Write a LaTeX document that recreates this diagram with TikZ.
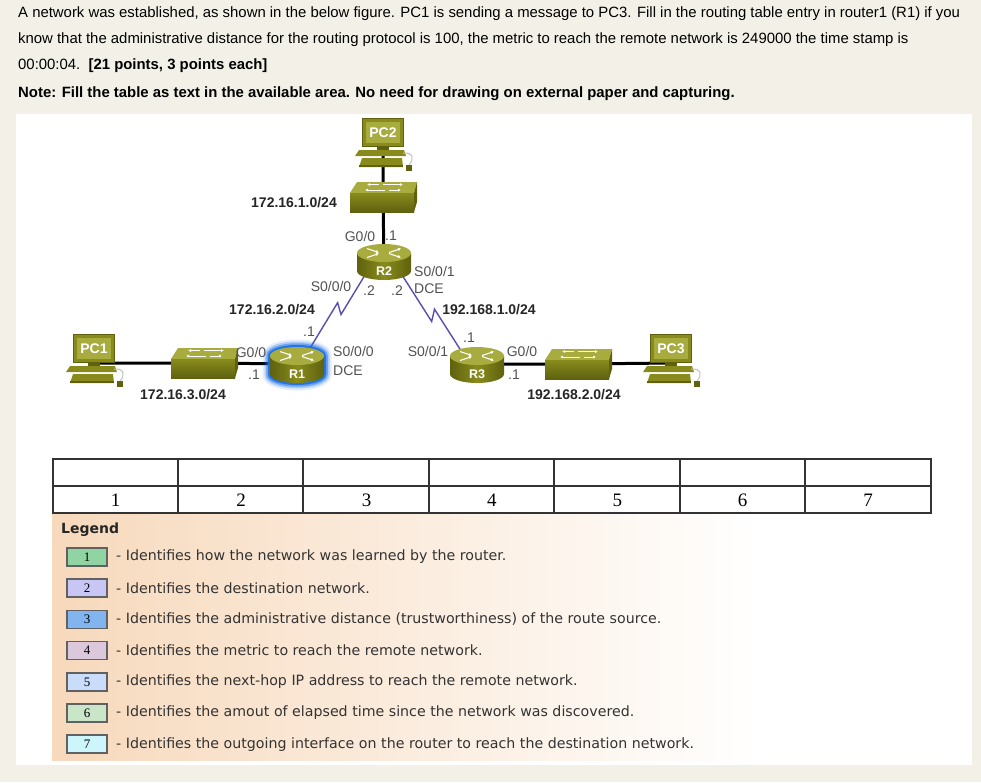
\documentclass[tikz,border=0pt]{standalone}
\usepackage{fontspec}
\setmainfont{Liberation Sans}
\newfontfamily\numfont{Liberation Serif}
\newfontfamily\keyfont{DejaVu Sans}
\usetikzlibrary{calc}
\usetikzlibrary{arrows.meta}
\pgfdeclarelayer{paper}
\pgfdeclarelayer{background}
\pgfsetlayers{paper,background,main}

\definecolor{pagebg}{HTML}{F3F1E7}
\definecolor{olivelight}{HTML}{A8AB3E}
\definecolor{olivemid}{HTML}{888B1C}
\definecolor{olivedark}{HTML}{5F610F}
\definecolor{seriallink}{HTML}{5A4DB2}
\definecolor{glowblue}{HTML}{1C6FE8}
\definecolor{legendpeach}{HTML}{F7D9BC}
\definecolor{keyA}{HTML}{8FD4A2}
\definecolor{keyB}{HTML}{C8C6F4}
\definecolor{keyC}{HTML}{82B4F0}
\definecolor{keyD}{HTML}{DCC8DC}
\definecolor{keyE}{HTML}{C9DCFA}
\definecolor{keyF}{HTML}{C9E6C9}
\definecolor{keyG}{HTML}{CDF5FC}

\tikzset{
    eth/.style={line width=3pt, black},
    serial/.style={line width=1.4pt, seriallink, line join=miter},
    iflabel/.style={font=\fontsize{14}{14}\selectfont, text=black!68, inner sep=0pt},
    netlabel/.style={font=\bfseries\fontsize{14}{14}\selectfont, text=black!85, inner sep=0pt},
    toptext/.style={anchor=west, inner sep=0pt, font=\fontsize{14.9}{14.9}\selectfont},
    cellline/.style={line width=1.1pt, black!80},
    colnum/.style={font=\numfont\fontsize{19}{19}\selectfont},
    keybox/.style={draw=black!62, line width=1.6pt, minimum width=40pt, minimum height=18pt,
        inner sep=0pt, font=\numfont\fontsize{13}{13}\selectfont},
    keytext/.style={anchor=west, inner sep=0pt, text=black!80, font=\keyfont\fontsize{14.2}{14.2}\selectfont},
    pics/router/.style={code={
        \shade[left color=olivedark, right color=olivedark, middle color=olivemid]
            (-27,-8) -- (-27,10) arc[start angle=180, end angle=0, x radius=27, y radius=9] -- (27,-8) -- cycle;
        \fill[olivelight] (0,-8) ellipse[x radius=27, y radius=9];
        \draw[white, line width=1.1pt, -{Latex[length=3pt, width=3.5pt]}] (-17,-12.5) -- (-5,-8.5);
        \draw[white, line width=1.1pt, -{Latex[length=3pt, width=3.5pt]}] (-17,-3.5) -- (-5,-7.5);
        \draw[white, line width=1.1pt, -{Latex[length=3pt, width=3.5pt]}] (5,-8.5) -- (17,-12.5);
        \draw[white, line width=1.1pt, -{Latex[length=3pt, width=3.5pt]}] (5,-7.5) -- (17,-3.5);
        \node[font=\bfseries\fontsize{12.5}{12.5}\selectfont, text=white] at (0,10) {#1};
        \coordinate (-sw) at (-19,14);
        \coordinate (-se) at (18,14);
        \coordinate (-ne) at (20,-10);
        \coordinate (-nw) at (-22,-6);
    }},
    pics/halo/.style={code={
        \foreach \w/\o in {15/0.12, 11/0.25, 7.5/0.45, 4/0.9}
            \draw[glowblue, line width=\w pt, opacity=\o]
                (-27,-8) arc[start angle=180, end angle=360, x radius=27, y radius=9]
                -- (27,10) arc[start angle=0, end angle=180, x radius=27, y radius=9] -- cycle;
    }},
    pics/switch/.style={code={
        \fill[olivelight] (-26,-15) -- (34,-15) -- (31,-4) -- (-33,-4) -- cycle;
        \shade[top color=olivemid, bottom color=olivedark] (-33,-4) rectangle (31,15);
        \fill[olivedark] (31,-4) -- (34,-15) -- (34,5) -- (31,15) -- cycle;
        \draw[white, line width=1pt, -{Latex[length=3pt, width=3pt]}] (0,-12.5) -- (20,-12.5);
        \draw[white, line width=1pt, -{Latex[length=3pt, width=3pt]}] (-4,-12.5) -- (-16,-12.5);
        \draw[white, line width=1pt, -{Latex[length=3pt, width=3pt]}] (2,-7) -- (-18,-7);
        \draw[white, line width=1pt, -{Latex[length=3pt, width=3pt]}] (6,-7) -- (18,-7);
    }},
    pics/pc/.style={code={
        \fill[olivedark] (-21,-29) rectangle (21,0);
        \fill[olivemid] (-20,-28) rectangle (20,-1);
        \fill[olivelight] (-17,-25) rectangle (17,-4);
        \fill[olivedark] (-6,0) rectangle (6,3);
        \fill[olivemid] (-24,3) -- (21,3) -- (23,9) -- (-28,9) -- cycle;
        \fill[olivemid] (-21,11) -- (19,11) -- (20,20) -- (-24,20) -- cycle;
        \fill[olivedark] (-24,18) rectangle (20,20);
        \fill[olivedark] (23,18) rectangle (29,24);
        \draw[black!25, line width=1pt] (20,6) .. controls (31,5) and (31,13) .. (26,18);
        \node[font=\bfseries\fontsize{14}{14}\selectfont, text=white] at (0,-14.5) {#1};
    }}
}

\begin{document}
\begin{tikzpicture}[x=1pt, y=-1pt]
    \useasboundingbox (0,0) rectangle (981,782);
    \begin{pgfonlayer}{paper}
        \fill[pagebg] (0,0) rectangle (981,782);
        \fill[white] (16,114) rectangle (972,765);
        \shade[left color=legendpeach, right color=white] (52,513) rectangle (760,760);
    \end{pgfonlayer}

    \node[toptext] (line1) at (18,14) {A network was established, as shown in the below figure. PC1 is sending a message to PC3. Fill in the routing table entry in router1 (R1) if you};
    \node[toptext] (line2) at (18,40) {know that the administrative distance for the routing protocol is 100, the metric to reach the remote network is 249000 the time stamp is};
    \node[toptext] (line3) at (18,66) {00:00:04.\ \ \textbf{[21 points, 3 points each]}};
    \node[toptext, font=\bfseries\fontsize{14.9}{14.9}\selectfont] (note) at (18,94) {Note: Fill the table as text in the available area. No need for drawing on external paper and capturing.};

    \coordinate (PC2) at (383,147);
    \coordinate (SW2) at (383,197);
    \coordinate (R2) at (384,261);
    \coordinate (PC1) at (94,363);
    \coordinate (SW1) at (204,363);
    \coordinate (R1) at (297,364);
    \coordinate (R3) at (477,364);
    \coordinate (SW3) at (578,364);
    \coordinate (PC3) at (671,363);

    \pic (R1) at (R1) {halo};
    \pic (R1) at (R1) {router=R1};
    \pic (R2) at (R2) {router=R2};
    \pic (R3) at (R3) {router=R3};
    \pic (SW1) at (SW1) {switch};
    \pic (SW2) at (SW2) {switch};
    \pic (SW3) at (SW3) {switch};
    \pic (PC1) at (PC1) {pc=PC1};
    \pic (PC2) at (PC2) {pc=PC2};
    \pic (PC3) at (PC3) {pc=PC3};

    \begin{pgfonlayer}{background}
        \draw[eth] (PC2) -- (SW2) -- (R2);
        \draw[eth] (PC1) -- (SW1) -- (R1);
        \draw[eth] (R3) -- (SW3) -- (PC3);
        \draw[serial] (R2-sw) -- ($(R2-sw)!0.50!(R1-ne)$) -- ($(R2-sw)!0.41!(R1-ne)!9pt!-90:(R1-ne)$) -- ($(R1-ne)!9pt!90:(R2-sw)$);
        \draw[serial] (R2-se) -- ($(R2-se)!0.56!(R3-nw)$) -- ($(R2-se)!0.47!(R3-nw)!9pt!90:(R3-nw)$) -- ($(R3-nw)!9pt!-90:(R2-se)$);
    \end{pgfonlayer}

    \node[netlabel] (net1) at (294,203) {172.16.1.0/24};
    \node[netlabel] (net2) at (272,310) {172.16.2.0/24};
    \node[netlabel] (net3) at (183,395) {172.16.3.0/24};
    \node[netlabel] (net4) at (489,310) {192.168.1.0/24};
    \node[netlabel] (net5) at (574,395) {192.168.2.0/24};

    \node[iflabel] (r2g) at (360,236) {G0/0};
    \node[iflabel] (r2gip) at (391,236) {.1};
    \node[iflabel, anchor=west] (r2s1) at (414,271) {S0/0/1};
    \node[iflabel, anchor=west] (r2dce) at (414,289) {DCE};
    \node[iflabel] (r2s0) at (331,286) {S0/0/0};
    \node[iflabel] (r2s0ip) at (369,291) {.2};
    \node[iflabel] (r2s1ip) at (397,291) {.2};

    \node[iflabel] (r1sip) at (309,332) {.1};
    \node[iflabel] (r1g) at (251,352) {G0/0};
    \node[iflabel] (r1gip) at (254,375) {.1};
    \node[iflabel, anchor=west] (r1s0) at (333,351) {S0/0/0};
    \node[iflabel, anchor=west] (r1dce) at (333,371) {DCE};

    \node[iflabel] (r3s1) at (428,351) {S0/0/1};
    \node[iflabel] (r3sip) at (469,338) {.1};
    \node[iflabel] (r3g) at (522,351) {G0/0};
    \node[iflabel] (r3gip) at (514,375) {.1};

    \draw[cellline] (53,459) rectangle (931,513);
    \draw[cellline] (53,486) -- (931,486);
    \foreach \x in {178,303,429,554,680,805}
        \draw[cellline] (\x,459) -- (\x,513);
    \foreach \n in {1,...,7}
        \node[colnum] (col\n) at ({53+(\n-0.5)*125.4},500) {\n};

    \node[anchor=west, inner sep=0pt, text=black!85, font=\keyfont\bfseries\fontsize{14}{14}\selectfont] (legend) at (61,530) {Legend};
    \foreach \n/\c/\t in {1/keyA/{Identifies how the network was learned by the router.},
            2/keyB/{Identifies the destination network.},
            3/keyC/{Identifies the administrative distance (trustworthiness) of the route source.},
            4/keyD/{Identifies the metric to reach the remote network.},
            5/keyE/{Identifies the next-hop IP address to reach the remote network.},
            6/keyF/{Identifies the amout of elapsed time since the network was discovered.},
            7/keyG/{Identifies the outgoing interface on the router to reach the destination network.}} {
        \node[keybox, fill=\c] (key\n) at (87,{557+(\n-1)*31.2}) {\n};
        \node[keytext] (keytext\n) at (116,{557+(\n-1)*31.2}) {- \t};
    }
\end{tikzpicture}
\end{document}
